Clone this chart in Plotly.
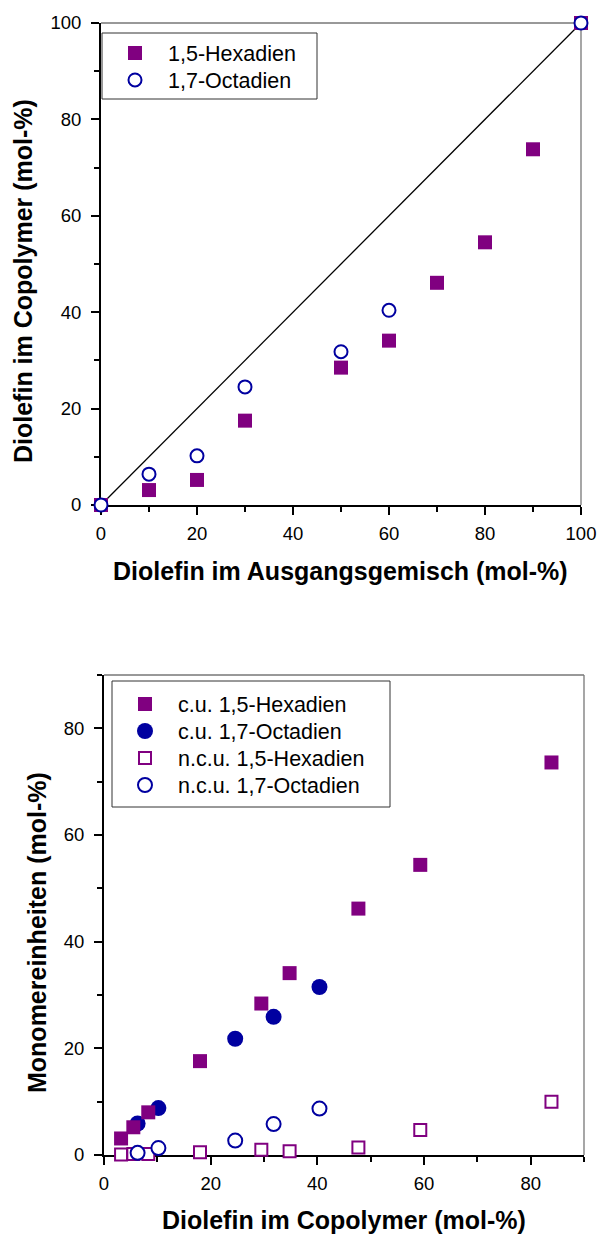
import plotly.graph_objects as go

# ---------------- data ----------------
# top chart: feed composition vs. copolymer composition
top_hex_x = [0, 10, 20, 30, 50, 60, 70, 80, 90, 100]
top_hex_y = [0, 3.1, 5.2, 17.5, 28.5, 34.1, 46.1, 54.5, 73.8, 100]
top_oct_x = [0, 10, 20, 30, 50, 60, 100]
top_oct_y = [0, 6.4, 10.2, 24.5, 31.8, 40.4, 100]
diag_x = [0, 100]
diag_y = [0, 100]

# bottom chart: monomer units vs. diolefin in copolymer
hex_x = [3.2, 5.5, 8.3, 18.0, 29.5, 34.8, 47.7, 59.3, 83.9]
cu_hex_y = [3.1, 5.2, 8.0, 17.6, 28.4, 34.1, 46.2, 54.4, 73.6]
ncu_hex_y = [0.1, 0.2, 0.2, 0.5, 1.0, 0.7, 1.4, 4.7, 10.0]
oct_x = [6.3, 10.2, 24.6, 31.8, 40.4]
cu_oct_y = [5.9, 8.8, 21.8, 25.9, 31.5]
ncu_oct_y = [0.4, 1.3, 2.7, 5.8, 8.7]

tick_vals = [0, 20, 40, 60, 80, 100]

PURPLE = "#800080"
BLUE = "#0000A0"
FONT = "Liberation Sans, Arial, sans-serif"

W, H = 599, 1234


def px_x(p):
    return p / W


def px_y(p):
    return 1 - p / H


fig = go.Figure()

# top
fig.add_trace(go.Scatter(x=diag_x, y=diag_y, mode="lines", line=dict(color="black", width=1.3),
                         showlegend=False, xaxis="x", yaxis="y", hoverinfo="skip"))
fig.add_trace(go.Scatter(x=top_hex_x, y=top_hex_y, mode="markers", name="1,5-Hexadien",
                         marker=dict(symbol="square", size=14, color=PURPLE),
                         cliponaxis=False, xaxis="x", yaxis="y", legend="legend"))
fig.add_trace(go.Scatter(x=top_oct_x, y=top_oct_y, mode="markers", name="1,7-Octadien",
                         marker=dict(symbol="circle", size=13, color="white", line=dict(width=2, color=BLUE)),
                         cliponaxis=False, xaxis="x", yaxis="y", legend="legend2"))

# bottom (drawing order: filled circles under filled squares, open circles over open squares)
fig.add_trace(go.Scatter(x=oct_x, y=cu_oct_y, mode="markers", name="c.u. 1,7-Octadien",
                         marker=dict(symbol="circle", size=16, color=BLUE),
                         cliponaxis=False, xaxis="x2", yaxis="y2", legend="legend4"))
fig.add_trace(go.Scatter(x=hex_x, y=cu_hex_y, mode="markers", name="c.u. 1,5-Hexadien",
                         marker=dict(symbol="square", size=14, color=PURPLE),
                         cliponaxis=False, xaxis="x2", yaxis="y2", legend="legend3"))
fig.add_trace(go.Scatter(x=hex_x, y=ncu_hex_y, mode="markers", name="n.c.u. 1,5-Hexadien",
                         marker=dict(symbol="square", size=12, color="white", line=dict(width=2, color=PURPLE)),
                         cliponaxis=False, xaxis="x2", yaxis="y2", legend="legend5"))
fig.add_trace(go.Scatter(x=oct_x, y=ncu_oct_y, mode="markers", name="n.c.u. 1,7-Octadien",
                         marker=dict(symbol="circle", size=14, color="white", line=dict(width=2, color=BLUE)),
                         cliponaxis=False, xaxis="x2", yaxis="y2", legend="legend6"))


def axis_style(rng, domain, anchor, vals, standoff):
    return dict(
        range=rng, domain=domain, anchor=anchor, automargin=False,
        showline=True, linecolor="black", linewidth=2, mirror=False,
        showgrid=False, zeroline=False,
        ticks="outside", ticklen=8, tickwidth=2, tickcolor="black",
        tickvals=vals, ticktext=[str(v) for v in vals],
        tickfont=dict(family=FONT, size=18.5, color="black"),
        ticklabelstandoff=standoff,
        minor=dict(ticks="outside", ticklen=5, tickwidth=2, tickcolor="black", dtick=10, tick0=0),
        layer="below traces",
    )


top_xdom = [px_x(101), px_x(581)]
top_ydom = [px_y(505), px_y(23)]
bot_xdom = [px_x(104), px_x(584)]
bot_ydom = [px_y(1155), px_y(675)]


def legend_at(xpx, ypx):
    return dict(x=px_x(xpx), y=px_y(ypx), xanchor="left", yanchor="middle",
                bgcolor="rgba(0,0,0,0)", borderwidth=0,
                font=dict(family=FONT, size=21.5, color="black"),
                itemwidth=56)


layout = dict(
    width=W, height=H,
    margin=dict(l=0, r=0, t=0, b=0, autoexpand=False),
    paper_bgcolor="white", plot_bgcolor="white",
    font=dict(family=FONT, color="black"),
    xaxis=axis_style([0, 100], top_xdom, "y", tick_vals, 3),
    yaxis=axis_style([0, 100], top_ydom, "x", tick_vals, 6),
    xaxis2=axis_style([0, 90], bot_xdom, "y2", tick_vals[:5], 3),
    yaxis2=axis_style([0, 90], bot_ydom, "x2", tick_vals[:5], 6),
    legend=legend_at(102, 53),
    legend2=legend_at(102, 80),
    legend3=legend_at(112, 704),
    legend4=legend_at(112, 731),
    legend5=legend_at(112, 758),
    legend6=legend_at(112, 785),
    showlegend=True,
)
fig.update_layout(**layout)

# frame lines (top and right) on both plots
for xr, yr in (("x", "y"), ("x2", "y2")):
    fig.add_shape(type="line", xref=f"{xr} domain", yref=f"{yr} domain", x0=0, x1=1, y0=1, y1=1,
                  line=dict(color="#333333", width=1), layer="below")
    fig.add_shape(type="line", xref=f"{xr} domain", yref=f"{yr} domain", x0=1, x1=1, y0=0, y1=1,
                  line=dict(color="#777777", width=1.3), layer="below")

# legend frames
fig.add_shape(type="rect", xref="paper", yref="paper",
              x0=px_x(102), x1=px_x(317), y0=px_y(99), y1=px_y(33),
              line=dict(color="#333333", width=1), fillcolor="white", layer="above")
fig.add_shape(type="rect", xref="paper", yref="paper",
              x0=px_x(112), x1=px_x(390), y0=px_y(807), y1=px_y(681),
              line=dict(color="#333333", width=1), fillcolor="white", layer="above")

# axis titles
title_font = dict(family=FONT, size=25, color="black")
fig.add_annotation(text="<b>Diolefin im Ausgangsgemisch (mol-%)</b>", xref="paper", yref="paper",
                   x=px_x(341), y=px_y(571), showarrow=False, font=title_font, xanchor="center", yanchor="middle")
fig.add_annotation(text="<b>Diolefin im Copolymer (mol-%)</b>", xref="paper", yref="paper",
                   x=px_x(23), y=px_y(281), showarrow=False, font=title_font, textangle=-90,
                   xanchor="center", yanchor="middle")
fig.add_annotation(text="<b>Diolefin im Copolymer (mol-%)</b>", xref="paper", yref="paper",
                   x=px_x(344), y=px_y(1220), showarrow=False, font=title_font, xanchor="center", yanchor="middle")
fig.add_annotation(text="<b>Monomereinheiten (mol-%)</b>", xref="paper", yref="paper",
                   x=px_x(37), y=px_y(933), showarrow=False, font=title_font, textangle=-90,
                   xanchor="center", yanchor="middle")

fig.write_html("out.html")
